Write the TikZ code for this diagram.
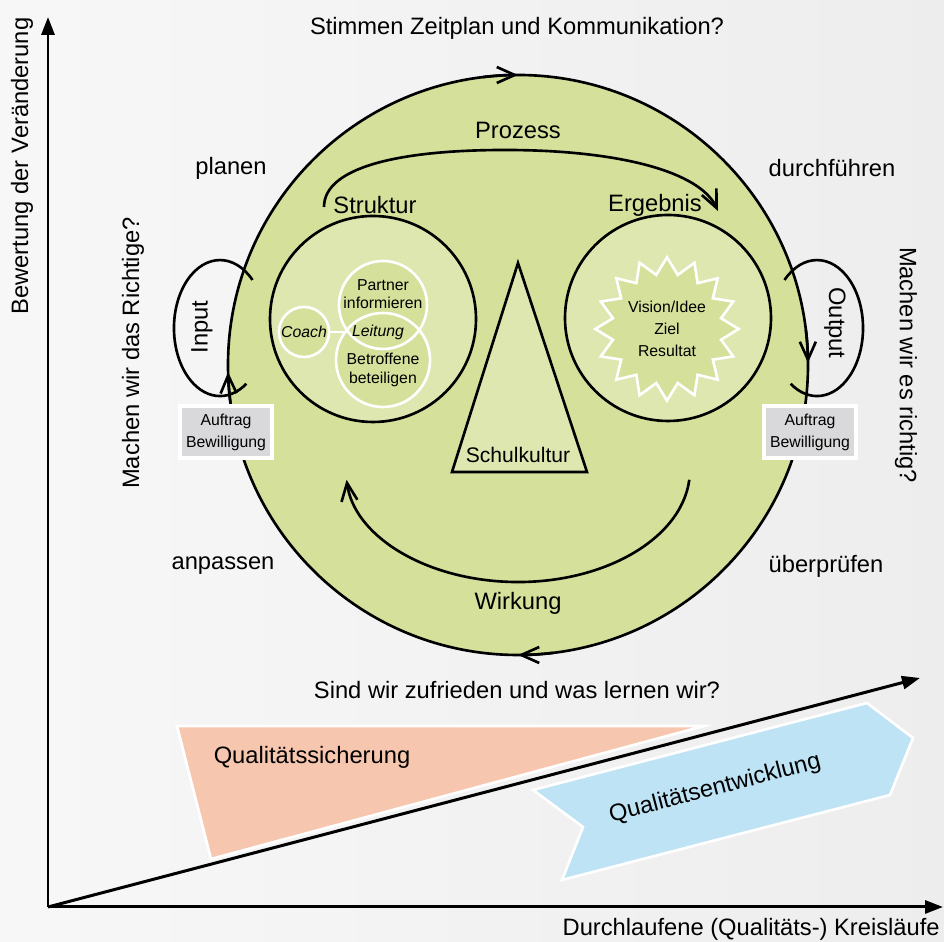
\documentclass[tikz,border=0pt]{standalone}
\usepackage{fontspec}
\setmainfont{Liberation Sans}
\usetikzlibrary{arrows.meta,shapes.geometric}
\definecolor{facegreen}{RGB}{213,224,154}
\definecolor{eyegreen}{RGB}{223,231,176}
\definecolor{boxgray}{RGB}{217,217,219}
\definecolor{salmon}{RGB}{247,198,174}
\definecolor{skyblue}{RGB}{190,227,245}
\begin{document}
\begin{tikzpicture}[x=0.02cm, y=0.02cm, line width=1.5pt,
    lbl/.style={font=\fontsize{13.5}{16}\selectfont, inner sep=0pt},
    small/.style={font=\fontsize{9}{12.5}\selectfont, align=center, inner sep=0pt},
    ring/.style={draw=white, line width=1.5pt},
    cyc/.style={-{Straight Barb[length=0.36cm,width=0.32cm]}},
    axis/.style={line width=1.7pt, -{Triangle[length=0.36cm,width=0.26cm]}},
    taskbox/.style={rectangle, fill=boxgray, draw=white, line width=2pt,
      minimum width=1.84cm, minimum height=1.04cm, small} ]
    \useasboundingbox (0,0) rectangle (944,942);
    \shade[left color=black!3, right color=black!7] (0,0) rectangle (944,942);
    \draw [fill=salmon, draw=white] (177,216) -- (704,216) -- (211,83) -- cycle;
    \node at (312,185) [lbl] (sicherung) {Qualitätssicherung};
    \draw [fill=skyblue, draw=white] (533,152) -- (867,239) -- (913,204) -- (890,147)
      -- (562,62) -- (583,115) -- cycle;
    \node at (715,153) [lbl, rotate=14.6] (entwicklung) {Qualitätsentwicklung};
    \coordinate (face) at (518,577);
    \draw [fill=facegreen] (face) circle [radius=290];
    \draw [cyc] ([shift={(97:290)}]face) arc [start angle=97, end angle=90, radius=290];
    \draw [cyc] ([shift={(277:290)}]face) arc [start angle=277, end angle=270, radius=290];
    \draw [cyc] ([shift={(188:290)}]face) arc [start angle=188, end angle=181.4, radius=290];
    \draw [cyc] ([shift={(7:290)}]face) arc [start angle=7, end angle=0.4, radius=290];
    \draw [fill=eyegreen] (373,623) circle [radius=103];
    \draw [fill=eyegreen] (668,624) circle [radius=103];
    \fill [facegreen] (383,637) circle [radius=44] (383,582) circle [radius=47];
    \draw [ring] (383,637) circle [radius=44] (383,582) circle [radius=47];
    \node at (304,610) [circle, fill=facegreen, ring, minimum size=1cm, inner sep=0pt,
      font=\fontsize{9}{11}\selectfont\itshape] (coach) {Coach};
    \node at (378,610) [inner sep=1pt, font=\fontsize{9}{11}\selectfont\itshape] (leitung) {Leitung};
    \draw [ring] (coach) -- (leitung);
    \node at (383,648) [small, font=\fontsize{9}{10.5}\selectfont] (partner) {Partner\\informieren};
    \node at (383,572) [small, font=\fontsize{9}{10.5}\selectfont] (betroffene) {Betroffene\\beteiligen};
    \node at (667,613) [star, star points=16, star point ratio=1.3, minimum size=2.85cm,
      fill=facegreen, ring, small] (vision) {Vision/Idee\\Ziel\\Resultat};
    \coordinate (apex) at (518,679);
    \coordinate (baseL) at (452,470);
    \coordinate (baseR) at (587,470);
    \draw [fill=eyegreen] (apex) -- (baseL) -- (baseR) -- cycle;
    \node at (518,487) [inner sep=0pt, font=\fontsize{12}{14}\selectfont] (kultur) {Schulkultur};
    \coordinate (prozessA) at (324,735);
    \coordinate (prozessM) at (505,792);
    \coordinate (prozessB) at (718,731);
    \draw [cyc] (prozessA) .. controls (324,775) and (400,792) .. (prozessM)
      .. controls (620,792) and (700,770) .. (prozessB);
    \coordinate (wirkungA) at (689.3,462.2);
    \draw [cyc] (wirkungA) arc [start angle=-5, end angle=-175, x radius=172, y radius=112];
    \coordinate (inputA) at (252.5,662);
    \draw (inputA) arc [start angle=45, end angle=305, x radius=46, y radius=68];
    \coordinate (outputA) at (784.5,662);
    \draw (outputA) arc [start angle=135, end angle=-125, x radius=46, y radius=68];
    \node at (226,510) [taskbox] (auftragL) {Auftrag\\Bewilligung};
    \node at (810,510) [taskbox] (auftragR) {Auftrag\\Bewilligung};
    \node at (202,615) [lbl, rotate=90] (input) {Input};
    \node at (835,619) [lbl, rotate=-90] (output) {Output};
    \node at (133,589) [lbl, rotate=90] (richtige) {Machen wir das Richtige?};
    \node at (906,577) [lbl, rotate=-90] (richtig) {Machen wir es richtig?};
    \node at (517,914) [lbl] (zeitplan) {Stimmen Zeitplan und Kommunikation?};
    \node at (517,252) [lbl] (lernen) {Sind wir zufrieden und was lernen wir?};
    \node at (231,774) [lbl] (planen) {planen};
    \node at (832,774) [lbl] (durchfuehren) {durchführen};
    \node at (223,376) [lbl] (anpassen) {anpassen};
    \node at (826,376) [lbl] (ueberpruefen) {überprüfen};
    \node at (518,812) [lbl] (prozess) {Prozess};
    \node at (375,737) [lbl] (struktur) {Struktur};
    \node at (655,737) [lbl] (ergebnis) {Ergebnis};
    \node at (518,339) [lbl] (wirkung) {Wirkung};
    \coordinate (origin) at (48,35);
    \coordinate (ytop) at (48,925);
    \coordinate (xend) at (943,35);
    \coordinate (diag) at (920,264);
    \draw [axis] (origin) -- (ytop);
    \draw [axis] (origin) -- (xend);
    \draw [axis] (origin) -- (diag);
    \node at (22,776) [lbl, rotate=90] (ylabel) {Bewertung der Veränderung};
    \node at (941,13) [lbl, anchor=east] (xlabel) {Durchlaufene (Qualitäts-) Kreisläufe};
\end{tikzpicture}
\end{document}
